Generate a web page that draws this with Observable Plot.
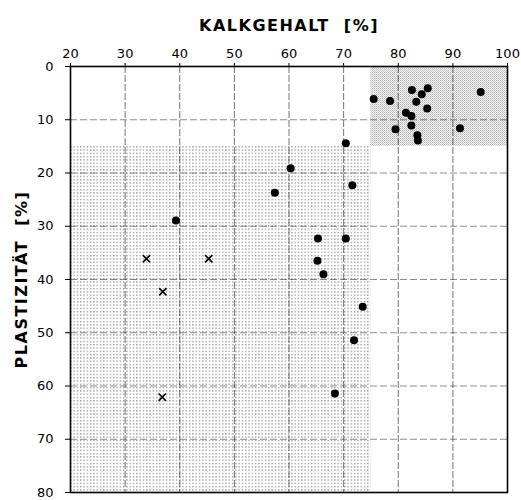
<!DOCTYPE html>
<html><head><meta charset="utf-8">
<script src="https://cdn.jsdelivr.net/npm/d3@7"></script>
<script src="https://cdn.jsdelivr.net/npm/@observablehq/plot@0.6"></script>
<style>body{margin:0;background:#fff;}</style>
</head><body><div id="chart"></div>
<script>
// Data: Kalkgehalt [%] (x) vs Plastizität [%] (y)
const dotKalk  = [75.5, 78.5, 82.5, 84.3, 85.4, 83.3, 85.3, 95.1, 81.4, 82.4, 79.5, 82.4, 83.5, 83.6, 91.3,
                  70.4, 60.3, 71.6, 57.4, 65.3, 70.4, 65.2, 66.3, 73.5, 71.9, 68.4, 39.3];
const dotPlast = [6.1, 6.5, 4.4, 5.2, 4.1, 6.6, 7.9, 4.8, 8.7, 9.3, 11.8, 11.1, 12.9, 13.9, 11.6,
                  14.4, 19.1, 22.3, 23.7, 32.3, 32.3, 36.5, 39.0, 45.1, 51.4, 61.4, 28.9];
const crossKalk  = [33.9, 45.3, 36.9, 36.8];
const crossPlast = [36.1, 36.1, 42.3, 62.1];
// Shaded zones
const zoneKind   = ["dots", "stipple"];
const zoneKalk1  = [20, 75];
const zoneKalk2  = [75, 100];
const zonePlast1 = [15, 0];
const zonePlast2 = [80, 15];
// Ticks & titles
const xTicks = [20, 30, 40, 50, 60, 70, 80, 90, 100];
const yTicks = [0, 10, 20, 30, 40, 50, 60, 70, 80];
const xTitle = "KALKGEHALT  [%]";
const yTitle = "PLASTIZITÄT  [%]";

const dots = dotKalk.map((k, i) => ({k, p: dotPlast[i]}));
const crosses = crossKalk.map((k, i) => ({k, p: crossPlast[i]}));
const zones = zoneKind.map((kind, i) => ({kind, x1: zoneKalk1[i], x2: zoneKalk2[i], y1: zonePlast1[i], y2: zonePlast2[i]}));

const chart = Plot.plot({
  width: 521, height: 500,
  marginTop: 66, marginRight: 14, marginBottom: 8, marginLeft: 70,
  style: {fontFamily: "DejaVu Sans", fontSize: "12px", color: "#000", background: "#fff"},
  x: {domain: [20, 100], axis: null},
  y: {domain: [0, 80], reverse: true, axis: null},
  marks: [
    Plot.rect(zones.filter(d => d.kind === "dots"), {x1: "x1", x2: "x2", y1: "y1", y2: "y2", fill: "url(#pat-dots)"}),
    Plot.rect(zones.filter(d => d.kind === "stipple"), {x1: "x1", x2: "x2", y1: "y1", y2: "y2", fill: "url(#pat-stipple)"}),
    Plot.gridX(xTicks.slice(1, -1), {stroke: "#000", strokeOpacity: 0.55, strokeWidth: 1, strokeDasharray: "7,2"}),
    Plot.gridY(yTicks.slice(1, -1), {stroke: "#000", strokeOpacity: 0.45, strokeWidth: 1, strokeDasharray: "7,3"}),
    Plot.axisX(xTicks, {anchor: "top", tickSize: 4, tickPadding: 5, label: null, fontSize: 13}),
    Plot.axisY(yTicks, {anchor: "left", tickSize: 5, tickPadding: 12, label: null, fontSize: 13}),
    Plot.frame({stroke: "#000", strokeWidth: 1.6}),
    Plot.dot(dots, {x: "k", y: "p", r: 4, fill: "#000", stroke: "none"}),
    Plot.dot(crosses, {x: "k", y: "p", r: 3.4, symbol: "times", stroke: "#000", strokeWidth: 1.6}),
    Plot.text([xTitle], {frameAnchor: "top", dy: -47, fontSize: 16, fontWeight: "bold", className: "ttl"}),
    Plot.text([yTitle], {frameAnchor: "left", textAnchor: "middle", dx: -49, rotate: -90, fontSize: 16, fontWeight: "bold", className: "ttl"})
  ]
});

// pattern definitions for the shaded zones
const svg = d3.select(chart);
const defs = svg.insert("defs", ":first-child");
const pd = defs.append("pattern").attr("id", "pat-dots").attr("patternUnits", "userSpaceOnUse")
  .attr("width", 3.3).attr("height", 3.3);
pd.append("rect").attr("width", 3.3).attr("height", 3.3).attr("fill", "#fff");
pd.append("rect").attr("x", 1).attr("y", 1).attr("width", 1.1).attr("height", 1.1).attr("fill", "#666");
const ps = defs.append("pattern").attr("id", "pat-stipple").attr("patternUnits", "userSpaceOnUse")
  .attr("width", 2).attr("height", 2);
ps.append("rect").attr("width", 2).attr("height", 2).attr("fill", "#f2f2f2");
ps.append("rect").attr("x", 0).attr("y", 0).attr("width", 1).attr("height", 1).attr("fill", "#b4b4b4");
ps.append("rect").attr("x", 1).attr("y", 1).attr("width", 1).attr("height", 1).attr("fill", "#d0d0d0");
svg.selectAll(".ttl text").style("letter-spacing", "1.5px");

document.getElementById("chart").appendChild(chart);
</script>
</body></html>
